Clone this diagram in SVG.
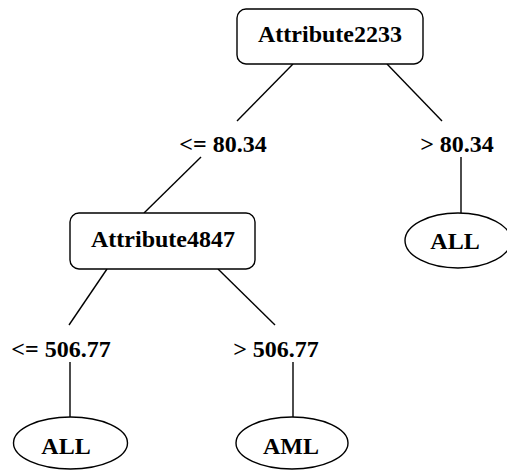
<svg xmlns="http://www.w3.org/2000/svg" width="507" height="471" viewBox="0 0 507 471">
  <style>
    .node { fill: #ffffff; stroke: #000000; stroke-width: 1.4; }
    .edge { stroke: #000000; stroke-width: 1.4; fill: none; }
    text { font-family: "Liberation Serif", "Times New Roman", serif; font-weight: bold; font-size: 24px; fill: #000000; text-anchor: middle; }
  </style>
  <rect width="507" height="471" fill="#ffffff"/>

  <!-- connectors and branch labels -->
  <g id="edges">
    <line class="edge" x1="293" y1="64" x2="237" y2="121"/>
    <line class="edge" x1="387" y1="64" x2="442" y2="121"/>
    <line class="edge" x1="201" y1="157" x2="144" y2="213"/>
    <line class="edge" x1="461" y1="157" x2="461" y2="213"/>
    <line class="edge" x1="107" y1="269" x2="69" y2="325"/>
    <line class="edge" x1="218" y1="269" x2="275" y2="325"/>
    <line class="edge" x1="70" y1="362" x2="70" y2="417"/>
    <line class="edge" x1="293" y1="362" x2="293" y2="417"/>
    <text x="223" y="152">&lt;= 80.34</text>
    <text x="457" y="152">&gt; 80.34</text>
    <text x="61" y="357">&lt;= 506.77</text>
    <text x="276" y="357">&gt; 506.77</text>
  </g>

  <g id="attr2233">
    <rect class="node" x="237" y="9" width="186" height="55" rx="9" ry="9"/>
    <text x="330" y="42">Attribute2233</text>
  </g>

  <g id="attr4847">
    <rect class="node" x="70" y="213" width="185" height="56" rx="9" ry="9"/>
    <text x="163" y="247">Attribute4847</text>
  </g>

  <g id="leaf-all-right">
    <ellipse class="node" cx="458" cy="240.5" rx="53" ry="27.5"/>
    <text x="455" y="249">ALL</text>
  </g>

  <g id="leaf-all-left">
    <ellipse class="node" cx="70.5" cy="443" rx="57" ry="26"/>
    <text x="66" y="454">ALL</text>
  </g>

  <g id="leaf-aml">
    <ellipse class="node" cx="292" cy="443" rx="56" ry="26"/>
    <text x="291" y="454">AML</text>
  </g>
</svg>
